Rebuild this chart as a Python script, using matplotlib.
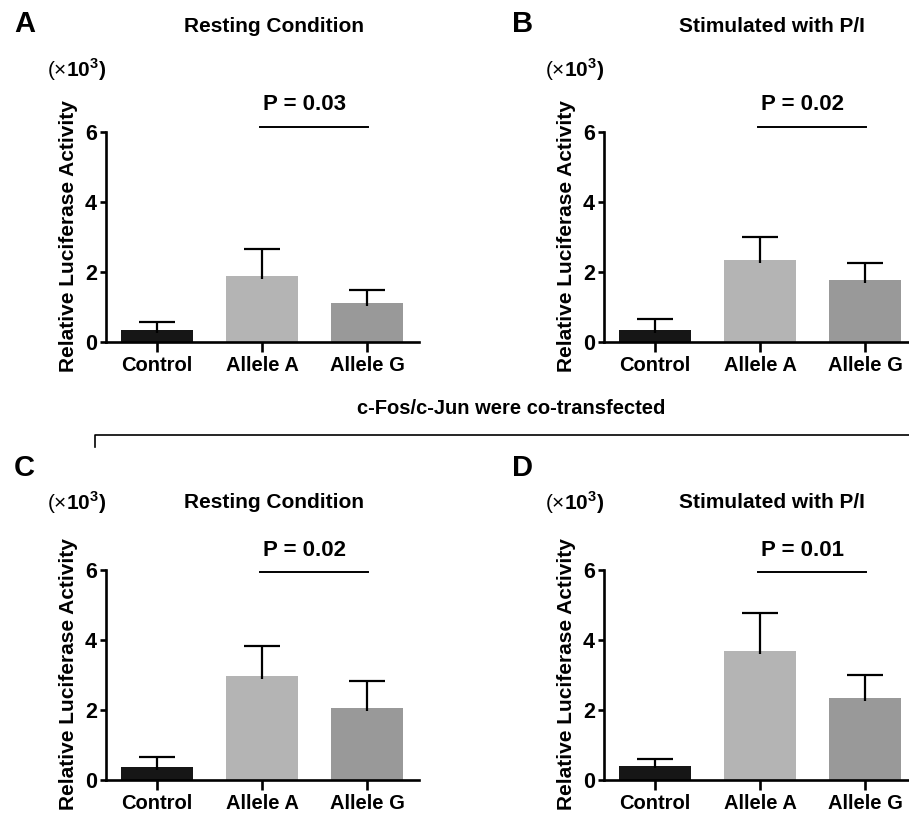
import matplotlib
matplotlib.use("Agg")
import matplotlib.pyplot as plt

plt.rcParams["font.family"] = ["Liberation Sans", "DejaVu Sans"]
plt.rcParams["font.weight"] = "bold"
plt.rcParams["mathtext.fontset"] = "custom"
plt.rcParams["mathtext.rm"] = "Liberation Sans:weight=normal"
plt.rcParams["mathtext.bf"] = "Liberation Sans:bold"

groups = ["Control", "Allele A", "Allele G"]
bar_colors = ["#161616", "#b4b4b4", "#999999"]

# means and upper SEM (x10^3)
mean_a = [0.34, 1.89, 1.12]
sem_a = [0.24, 0.77, 0.37]
mean_b = [0.34, 2.34, 1.77]
sem_b = [0.31, 0.66, 0.50]
mean_c = [0.38, 2.98, 2.05]
sem_c = [0.29, 0.85, 0.78]
mean_d = [0.41, 3.68, 2.34]
sem_d = [0.19, 1.10, 0.66]

titles = ["Resting Condition", "Stimulated with P/I", "Resting Condition", "Stimulated with P/I"]
letters = ["A", "B", "C", "D"]
pvals = ["P = 0.03", "P = 0.02", "P = 0.02", "P = 0.01"]

W, H = 909, 823
fig = plt.figure(figsize=(W / 100, H / 100), dpi=100)


def fx(x):
    return x / W


def fy(y):
    return 1 - y / H


# panel layout in pixels: spine x, zero y, title y, letter y, scale y, sig line value, p text value
panels = [
    (106, 342, 27, 24, 70, 6.14, 6.78, mean_a, sem_a),
    (604, 342, 27, 24, 70, 6.14, 6.78, mean_b, sem_b),
    (106, 780, 503, 468, 503, 5.95, 6.55, mean_c, sem_c),
    (604, 780, 503, 468, 503, 5.95, 6.55, mean_d, sem_d),
]

unit_x = 105  # px per category
unit_y = 35   # px per 1 (x10^3)
ytop = 6.05

for i, (sx, zy, ty, ly, scy, sig_y, p_y, means, sems) in enumerate(panels):
    xl, xr = -0.486, 2.495
    w = (xr - xl) * unit_x
    h = ytop * unit_y
    ax = fig.add_axes([fx(sx), fy(zy), w / W, h / H])
    xs = list(range(len(groups)))
    ax.bar(xs, means, width=0.686, color=bar_colors, zorder=2)
    # upper-only error bars
    tops = [m + s for m, s in zip(means, sems)]
    ax.vlines(xs, [m - 0.08 for m in means], tops, color="black", lw=1.6, zorder=3)
    ax.hlines(tops, [x - 0.17 for x in xs], [x + 0.17 for x in xs], color="black", lw=1.6, zorder=3)
    ax.set_xlim(xl, xr)
    ax.set_ylim(0, ytop)
    ax.set_yticks([0, 2, 4, 6])
    ax.set_xticks(xs)
    ax.set_xticklabels(groups)
    for s in ["top", "right"]:
        ax.spines[s].set_visible(False)
    ax.spines["left"].set_linewidth(1.9)
    ax.spines["bottom"].set_linewidth(1.9)
    ax.spines["left"].set_bounds(0, 6)
    ax.tick_params(axis="y", length=4.5, width=1.9, labelsize=15.5, pad=2)
    ax.tick_params(axis="x", length=7, width=1.9, labelsize=14.5, pad=3)
    ax.set_ylabel("Relative Luciferase Activity", fontsize=15, fontweight="bold", labelpad=5)

    # significance bar between allele A and allele G
    ax.plot([0.98, 2.01], [sig_y, sig_y], color="black", lw=1.4, clip_on=False)
    ax.text(1.4, p_y, pvals[i], ha="center", va="center", fontsize=16, fontweight="bold")

    fig.text(fx(sx - 92), fy(ly), letters[i], fontsize=21, fontweight="bold", ha="left", va="center")
    fig.text(fx(sx + 168), fy(ty), titles[i], fontsize=15, fontweight="bold", ha="center", va="center")
    fig.text(fx(sx), fy(scy), r"$(\times\mathbf{10}^{\mathbf{3}}\mathbf{)}$", fontsize=15,
             ha="right", va="center")

# co-transfection bracket
fig.add_artist(plt.Line2D([fx(95), fx(95), fx(909)], [fy(447), fy(435), fy(435)],
                          color="black", lw=1.2))
fig.text(fx(511), fy(408), "c-Fos/c-Jun were co-transfected", fontsize=14.5,
         fontweight="bold", ha="center", va="center")

fig.savefig("out.png", dpi=100)
